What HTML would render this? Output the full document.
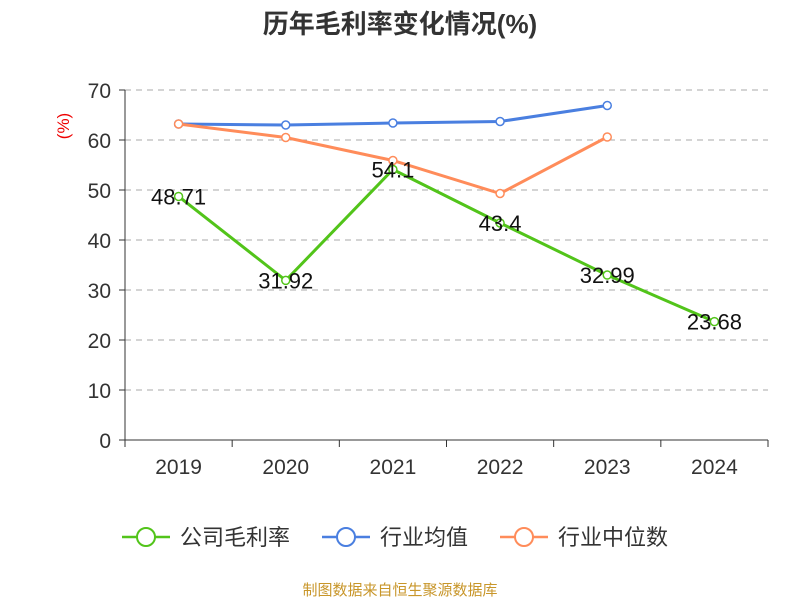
<!DOCTYPE html>
<html><head><meta charset="utf-8"><style>
body{margin:0;background:#fff;}
svg{display:block;font-family:"Liberation Sans","Noto Sans CJK SC",sans-serif;}
</style></head><body>
<svg id="chart" width="800" height="600">
<text x="400" y="33" text-anchor="middle" font-size="26" font-weight="bold" fill="#333">历年毛利率变化情况(%)</text>
<text transform="translate(69,126) rotate(-90)" text-anchor="middle" font-size="17" fill="#e00">(%)</text>
<g id="grid"></g><g id="axes"></g><g id="series"></g>
<g>
<g><line x1="122" y1="537" x2="170" y2="537" stroke="#52c41a" stroke-width="2.5"/><circle cx="146" cy="537" r="9" fill="#fff" stroke="#52c41a" stroke-width="2"/><text x="180" y="545" font-size="22" fill="#333">公司毛利率</text></g>
<g><line x1="322" y1="537" x2="370" y2="537" stroke="#4a7fe0" stroke-width="2.5"/><circle cx="346" cy="537" r="9" fill="#fff" stroke="#4a7fe0" stroke-width="2"/><text x="380" y="545" font-size="22" fill="#333">行业均值</text></g>
<g><line x1="500" y1="537" x2="548" y2="537" stroke="#ff8c5a" stroke-width="2.5"/><circle cx="524" cy="537" r="9" fill="#fff" stroke="#ff8c5a" stroke-width="2"/><text x="558" y="545" font-size="22" fill="#333">行业中位数</text></g>
</g>
<text x="400" y="595" text-anchor="middle" font-size="15" fill="#c8962a">制图数据来自恒生聚源数据库</text>
</svg>
<script>
const categories=["2019","2020","2021","2022","2023","2024"];
const company=[48.71,31.92,54.1,43.4,32.99,23.68];
const industryAvg=[63.2,63.0,63.4,63.7,66.9,null];
const industryMedian=[63.2,60.5,55.9,49.3,60.6,null];
const yTicks=[0,10,20,30,40,50,60,70];
const NS="http://www.w3.org/2000/svg";
const x0=125,x1=768,yb=440,yt=90,ymax=70;
const bw=(x1-x0)/categories.length;
const xs=i=>x0+bw*(i+0.5);
const ys=v=>yb-(v/ymax)*(yb-yt);
function mk(tag,attrs,parent){const e=document.createElementNS(NS,tag);for(const k in attrs)e.setAttribute(k,attrs[k]);document.getElementById(parent).appendChild(e);return e;}
yTicks.forEach(t=>{
 if(t>0){const g=mk('line',{x1:x0,x2:x1,y1:ys(t),y2:ys(t),stroke:'#aaa','stroke-dasharray':'6,5'},'grid');
 
 }
 const tk=mk('line',{x1:x0-6,x2:x0,y1:ys(t),y2:ys(t),stroke:'#333'},'axes');
 
 
 const l=mk('text',{x:x0-14,y:ys(t)+8,'text-anchor':'end','font-size':21,fill:'#333'},'axes');l.textContent=t;
 
 
});
const ya=mk('line',{x1:x0,x2:x0,y1:yt,y2:yb,stroke:'#333'},'axes');


const xa=mk('line',{x1:x0,x2:x1,y1:yb,y2:yb,stroke:'#333'},'axes');


for(let i=0;i<=categories.length;i++){const t=mk('line',{x1:x0+bw*i,x2:x0+bw*i,y1:yb,y2:yb+7,stroke:'#333'},'axes');
 
 }
categories.forEach((c,i)=>{const l=mk('text',{x:xs(i),y:yb+34,'text-anchor':'middle','font-size':21,fill:'#333'},'axes');l.textContent=c;
 
 });
function series(data,color,name,labels){
 const pts=data.map((v,i)=>v==null?null:[xs(i),ys(v)]).filter(p=>p);
 const p=mk('polyline',{points:pts.map(q=>q.join(',')).join(' '),fill:'none',stroke:color,'stroke-width':3},'series');
 
 
 data.forEach((v,i)=>{if(v==null)return;
  const c=mk('circle',{cx:xs(i),cy:ys(v),r:4,fill:'#fff',stroke:color,'stroke-width':1.5},'series');
  
  
  if(labels){const t=mk('text',{x:xs(i),y:ys(v)+8,'text-anchor':'middle','font-size':22,fill:'#111'},'series');t.textContent=v;
   
   }
 });
}
series(industryAvg,'#4a7fe0','industry-avg',false);
series(industryMedian,'#ff8c5a','industry-median',false);
series(company,'#52c41a','company',true);
</script>
</body></html>
